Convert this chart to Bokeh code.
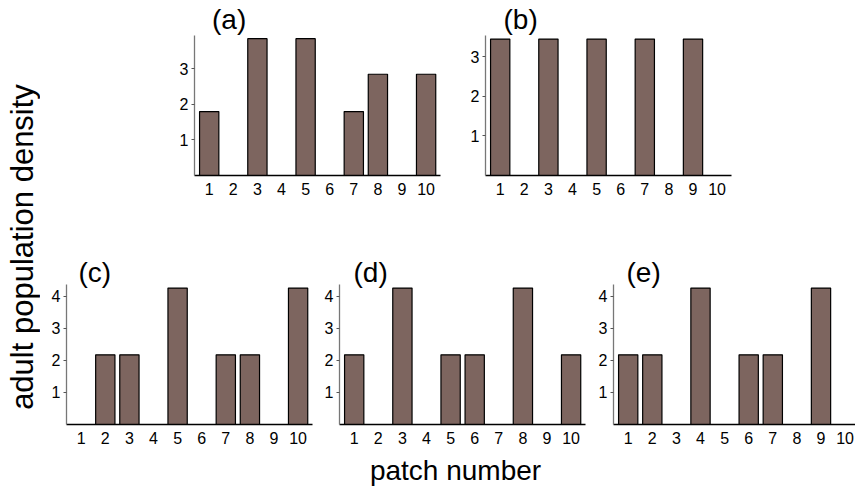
import math
from bokeh.plotting import figure
from bokeh.models import Range1d, FixedTicker, Label, Spacer
from bokeh.layouts import row, column
from bokeh.embed import file_html
from bokeh.resources import INLINE

# ---------------- data ----------------
patches = [1, 2, 3, 4, 5, 6, 7, 8, 9, 10]
dens_a = [1.8, 0, 3.85, 0, 3.85, 0, 1.8, 2.85, 0, 2.85]
dens_b = [3.45, 0, 3.45, 0, 3.45, 0, 3.45, 0, 3.45, 0]
dens_c = [0, 2.17, 2.17, 0, 4.25, 0, 2.17, 2.17, 0, 4.25]
dens_d = [2.17, 0, 4.25, 0, 2.17, 2.17, 0, 4.25, 0, 2.17]
dens_e = [2.17, 2.17, 0, 4.25, 0, 2.17, 2.17, 0, 4.25, 0]
panel_names = ["(a)", "(b)", "(c)", "(d)", "(e)"]
yticks_top = [1, 2, 3]
yticks_bottom = [1, 2, 3, 4]
y_label = "adult population density"
x_label = "patch number"

# ---------------- style ----------------
BAR = "#7d655f"
FONT = "Liberation Sans"
FRAME_H = 140
PX_PER_PATCH = 24.1
X0 = 0.39


def panel(vals, name, ymax, yticks, frame_w, L, R, T, B, title_off, title_standoff):
    x_end = X0 + frame_w / PX_PER_PATCH
    p = figure(frame_width=frame_w, frame_height=FRAME_H,
               x_range=Range1d(X0, x_end), y_range=Range1d(0, ymax),
               output_backend="svg", toolbar_location=None, title=name,
               min_border_left=L, min_border_right=R,
               min_border_top=T, min_border_bottom=B)
    p.vbar(x=patches, top=vals, width=0.8, fill_color=BAR,
           line_color="black", line_width=1.2)
    p.grid.visible = False
    p.outline_line_color = None
    p.background_fill_color = "white"
    p.border_fill_color = "white"

    p.title.text_font = FONT
    p.title.text_font_size = "28px"
    p.title.text_font_style = "normal"
    p.title.text_color = "black"
    p.title.align = "left"
    p.title.offset = title_off
    p.title.standoff = title_standoff

    xa = p.xaxis[0]
    xa.ticker = FixedTicker(ticks=patches)
    xa.major_tick_line_color = None
    xa.minor_tick_line_color = None
    xa.axis_line_color = "black"
    xa.axis_line_width = 1.3
    xa.major_label_text_font = FONT
    xa.major_label_text_font_size = "16px"
    xa.major_label_text_color = "black"
    xa.major_label_standoff = 1

    ya = p.yaxis[0]
    ya.ticker = FixedTicker(ticks=yticks)
    ya.major_tick_out = 3
    ya.major_tick_in = 0
    ya.major_tick_line_color = "#555555"
    ya.minor_tick_line_color = None
    ya.axis_line_color = "#777777"
    ya.axis_line_width = 1.3
    ya.major_label_text_font = FONT
    ya.major_label_text_font_size = "16px"
    ya.major_label_text_color = "black"
    ya.major_label_standoff = 3
    return p


def text_fig(w, h):
    f = figure(width=w, height=h, x_range=Range1d(0, w), y_range=Range1d(0, h),
               output_backend="svg", toolbar_location=None,
               x_axis_location=None, y_axis_location=None, min_border=0)
    f.grid.visible = False
    f.outline_line_color = None
    f.background_fill_color = "white"
    f.border_fill_color = "white"
    return f


pa = panel(dens_a, panel_names[0], 3.94, yticks_top, 246, 30, 15, 35, 25, 17.5, 2)
pb = panel(dens_b, panel_names[1], 3.54, yticks_top, 246, 30, 10, 35, 25, 18, 2)
pc = panel(dens_c, panel_names[2], 4.36, yticks_bottom, 246, 26, 3, 84, 20, 12, -6)
pd = panel(dens_d, panel_names[3], 4.36, yticks_bottom, 246, 24, 4, 84, 20, 14, -6)
pe = panel(dens_e, panel_names[4], 4.36, yticks_bottom, 242, 24, 0, 84, 20, 13, -6)

ylab = text_fig(40, 489)
ylab.add_layout(Label(x=21.5, y=489 - 246.5, text=y_label, angle=math.pi / 2,
                      text_align="center", text_baseline="middle",
                      text_font=FONT, text_font_size="31px", text_color="black"))

xlab = text_fig(815, 45)
xlab.add_layout(Label(x=415, y=45 - 24, text=x_label,
                      text_align="center", text_baseline="middle",
                      text_font=FONT, text_font_size="28px", text_color="black"))

top_row = row(Spacer(width=124, height=200), pa, pb)
bottom_row = row(pc, pd, pe)
layout = row(ylab, column(top_row, bottom_row, xlab))

open("out.html", "w").write(file_html(layout, INLINE))
